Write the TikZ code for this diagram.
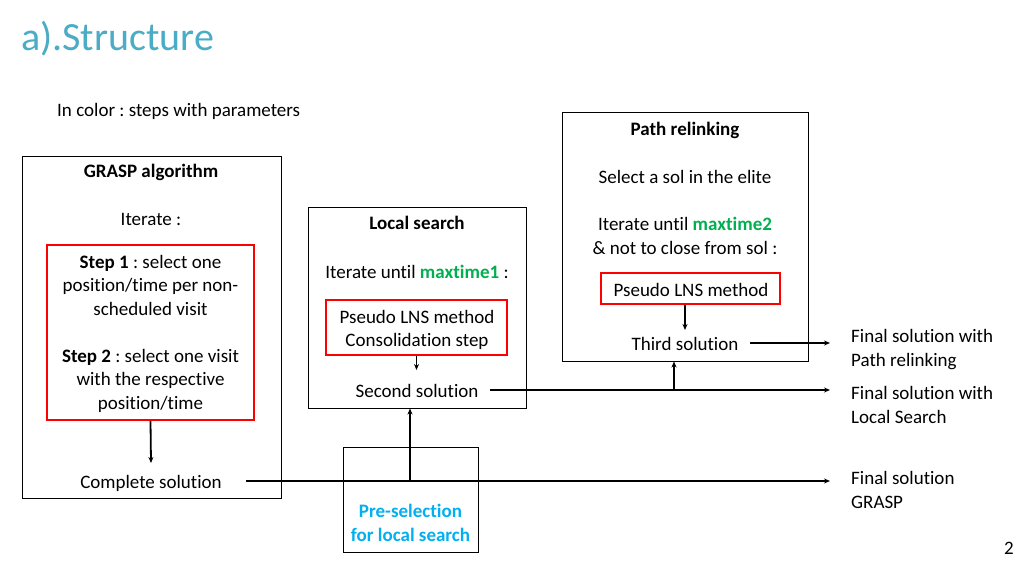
\documentclass[tikz,border=0pt]{standalone}
\usepackage{fontspec}
\setmainfont{Carlito}[Ligatures=NoCommon]
\usetikzlibrary{arrows.meta}
\definecolor{titleblue}{HTML}{4BACC6}
\definecolor{pgreen}{HTML}{00B050}
\definecolor{pcyan}{HTML}{00B0F0}
\definecolor{pred}{HTML}{FF0000}
\frenchspacing
\begin{document}
\begin{tikzpicture}[x=1pt,y=-1pt,
  txt/.style={font=\fontsize{19}{23.5}\selectfont, inner sep=0pt, text height=13pt, text depth=4pt, align=center, yshift=-2.5pt},
  ml/.style={font=\fontsize{19}{23.5}\selectfont, inner sep=0pt, align=center, yshift=-0.5pt},
  outerbox/.style={draw=black, line width=1pt, inner sep=0pt},
  redbox/.style={draw=pred, line width=1.8pt, inner sep=0pt, align=center, font=\fontsize{19}{23.5}\selectfont},
  conn/.style={line width=1.8pt, -{Stealth[length=6pt,width=5pt]}}
]
\useasboundingbox[fill=white] (0,0) rectangle (1022,561);

% title
\node[anchor=west, inner sep=0pt, text=titleblue, font=\fontsize{40}{44}\selectfont, text height=28pt, text depth=0pt] (title) at (21,37) {a).Structure};
\node[txt, anchor=west] (legend) at (57,110) {In color : steps with parameters};

% GRASP box
\node[outerbox, minimum width=259pt, minimum height=341pt] (grasp) at (151.5,327.5) {};
\node[txt, font=\fontsize{19}{23.5}\selectfont\bfseries] (graspT) at (151,171) {GRASP algorithm};
\node[txt] (graspI) at (151,219) {Iterate :};
\node[redbox, minimum width=207pt, minimum height=175pt] (r1) at (150.5,332.5) {};
\node[ml] (r1T) at (150.5,333) {\textbf{Step 1} : select one\\position/time per non-\\scheduled visit\\[23.5pt]\textbf{Step 2} : select one visit\\with the respective\\position/time};
\node[txt] (complete) at (151,481) {Complete solution};

% Local search box
\node[outerbox, minimum width=218pt, minimum height=200pt] (local) at (417,308) {};
\node[txt, font=\fontsize{19}{23.5}\selectfont\bfseries] (localT) at (417,223) {Local search};
\node[txt] (localI) at (417,271) {Iterate until \textcolor{pgreen}{\textbf{maxtime1}} :};
\node[redbox, minimum width=181pt, minimum height=55pt] (r2) at (416.5,327.5) {};
\node[ml] (r2T) at (417,329.5) {Pseudo LNS method\\Consolidation step};
\node[txt] (second) at (417,390) {Second solution};

% Path relinking box
\node[outerbox, minimum width=246pt, minimum height=248pt] (path) at (685,237) {};
\node[txt, font=\fontsize{19}{23.5}\selectfont\bfseries] (pathT) at (685,129) {Path relinking};
\node[txt] (pathS) at (685,177) {Select a sol in the elite};
\node[ml] (pathI) at (685,235.5) {Iterate until \textcolor{pgreen}{\textbf{maxtime2}}\\\& not to close from sol :};
\node[redbox, minimum width=179pt, minimum height=31pt] (r3) at (690.5,288.5) {};
\node[txt] (r3T) at (691,289) {Pseudo LNS method};
\node[txt] (third) at (685,343) {Third solution};

% Pre-selection box
\node[outerbox, minimum width=135pt, minimum height=105pt] (pre) at (410.5,499.5) {};
\node[ml, text=pcyan, font=\fontsize{19}{23.5}\selectfont\bfseries] (preT) at (410.5,522.5) {Pre-selection\\for local search};

% final texts
\node[ml, anchor=west, align=left] (fPR) at (851,349) {Final solution with\\Path relinking};
\node[ml, anchor=west, align=left] (fLS) at (851,404.5) {Final solution with\\Local Search};
\node[ml, anchor=west, align=left] (fG) at (851,489.5) {Final solution\\GRASP};

% page number
\node[txt] (page) at (1009,547) {2};

% coordinates
\coordinate (c1) at (151,463);
\coordinate (gStart) at (246,481);
\coordinate (gEnd) at (830,481);
\coordinate (c2) at (416.5,370);
\coordinate (sStart) at (490,390);
\coordinate (sEnd) at (830,390);
\coordinate (c3) at (685,330);
\coordinate (tStart) at (750,343);
\coordinate (tEnd) at (830,343);
\coordinate (preJ) at (410,481);
\coordinate (pathJ) at (674,390);

% connectors
\draw[conn] (r1.south) -- (c1);
\draw[conn] (gStart) -- (gEnd);
\draw[conn] (r2.south) -- (c2);
\draw[conn] (sStart) -- (sEnd);
\draw[conn] (r3.south -| c3) -- (c3);
\draw[conn] (tStart) -- (tEnd);
\draw[conn] (preJ) -- (preJ |- local.south);
\draw[conn] (pathJ) -- (pathJ |- path.south);
\end{tikzpicture}
\end{document}
